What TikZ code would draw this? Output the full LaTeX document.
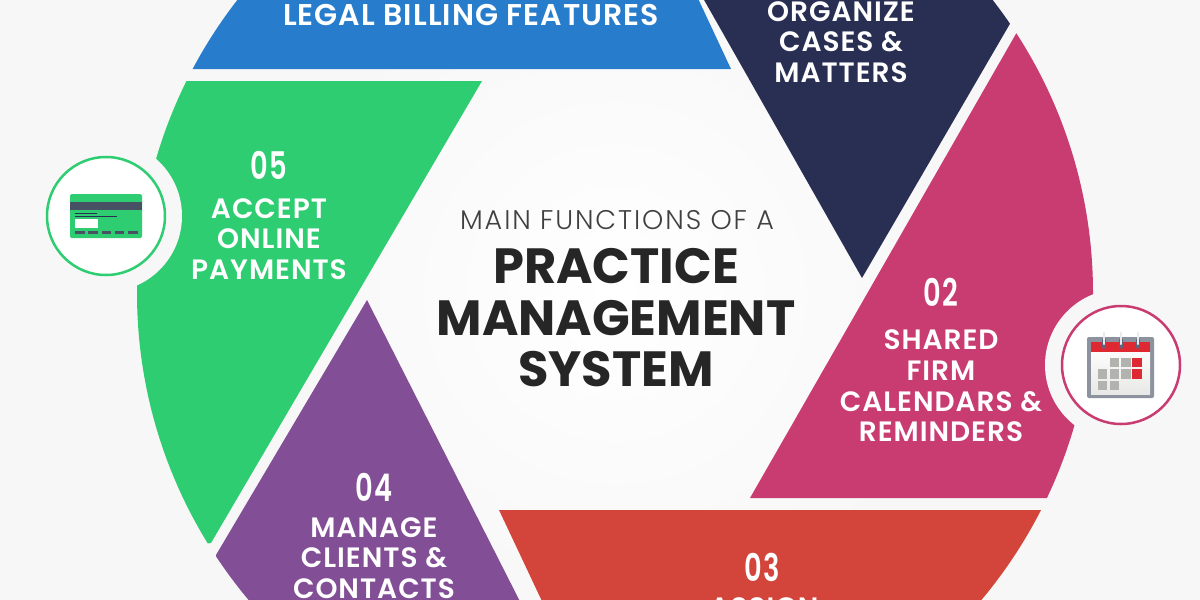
\documentclass[tikz,border=0pt]{standalone}
\usepackage{fontspec}
\usepackage{graphicx}
\setmainfont{Poppins}
\newfontfamily\semifont{Poppins SemiBold}[LetterSpace=3.5]
\newfontfamily\lightfont{Poppins Light}[LetterSpace=7]
\definecolor{paper}{RGB}{247,247,247}
\definecolor{billing}{RGB}{39,125,204}
\definecolor{cases}{RGB}{41,47,83}
\definecolor{calendars}{RGB}{201,60,113}
\definecolor{assign}{RGB}{211,69,58}
\definecolor{clients}{RGB}{130,78,150}
\definecolor{payments}{RGB}{46,205,113}
\definecolor{slate}{RGB}{72,80,100}
\definecolor{binder}{RGB}{140,146,158}
\definecolor{cellred}{RGB}{222,40,50}
\definecolor{cellgrey}{RGB}{178,178,174}
\tikzset{
  lbl/.style={text=white,align=center,font=\fontsize{28}{30.6}\selectfont\semifont},
  num/.style={text=white,font=\fontsize{38}{38}\selectfont\semifont},
  ring/.style={fill=white,line width=2.5pt,circle,minimum size=118pt,inner sep=0pt},
}
\newcommand{\narrow}[1]{\scalebox{.72}[1]{#1}}
\begin{document}
\begin{tikzpicture}[x=1pt,y=-1pt]
  \useasboundingbox (0,0) rectangle (1200,600);
  \clip (0,0) rectangle (1200,600);
  \fill[paper] (0,0) rectangle (1200,600);
  \shade[inner color=white,outer color=paper] (615,293) circle (340);
  % the six wedges, cut by the big circle
  \begin{scope}
    \clip (615,293) circle (478);
    \fill[billing] (190,69) -- (731,69) -- (680,-40) -- (100,-40) -- (100,69) -- cycle;
    \fill[cases] (862,278) -- (1011,22) -- (1100,-60) -- (670,-60) -- cycle;
    \fill[calendars] (1017,32) -- (750,498) -- (1200,498) -- (1200,32) -- cycle;
    \fill[assign] (499,510) -- (1100,510) -- (1100,700) -- (565,650) -- cycle;
    \fill[clients] (367,300) -- (216,555) -- (216,700) -- (570,700) -- cycle;
    \fill[payments] (482,81) -- (100,81) -- (100,560) -- (211,543) -- cycle;
  \end{scope}
  % round cut-outs for the two icons
  \fill[paper] (106,216) circle (76);
  \fill[paper] (1121,365) circle (76);
  \node[ring,draw=payments] (cardring) at (106,216) {};
  \node[ring,draw=calendars] (calring) at (1121,365) {};
  % credit card
  \fill[payments,rounded corners=1.5pt] (70,194) rectangle (142,238);
  \fill[slate] (70,202) rectangle (142,210);
  \fill[cases] (75,213) rectangle (97,214.2);
  \fill[cases] (75,215.5) rectangle (117,217);
  \fill[white] (75,219) rectangle (98,228);
  \foreach \i in {0,1,2,3,4}
    \fill[slate] (75+\i*13.3,231) rectangle (84.5+\i*13.3,234);
  % calendar
  \fill[binder,rounded corners=2pt] (1087,337) rectangle (1154,398);
  \shade[top color=white!96!cellgrey,bottom color=white!70!cellgrey] (1091,352) rectangle (1150,394);
  \fill[cellred] (1091,342) rectangle (1150,352);
  \foreach \x in {1104,1121,1138} {
    \draw[cases!75,line width=3.5pt,line cap=round] (\x,340) -- (\x,347);
    \draw[white!80!binder,line width=2.5pt,line cap=round] (\x,333) -- (\x,344);
  }
  \foreach \x/\y/\c in {1114.5/362.5/cellgrey,1126/362.5/cellgrey,1137/362.5/cellred,
      1102.5/374/cellgrey,1114.5/374/cellgrey,1126/374/cellgrey,1137/374/cellred,
      1102.5/385.5/cellgrey,1114.5/385.5/cellgrey}
    \fill[\c] (\x-4.6,\y-4.8) rectangle (\x+4.6,\y+4.8);
  % labels
  \node[lbl,font=\fontsize{30}{30.6}\selectfont\semifont] (billinglbl) at (471,15) {LEGAL BILLING FEATURES};
  \node[lbl] (caseslbl) at (841,42) {ORGANIZE\\CASES \&\\MATTERS};
  \node[num] (n2) at (941,292) {\narrow{02}};
  \node[lbl] (callbl) at (941,386) {SHARED\\FIRM\\CALENDARS \&\\REMINDERS};
  \node[num] (n3) at (762,567) {\narrow{03}};
  \node[lbl] (assignlbl) at (764,608) {ASSIGN};
  \node[num] (n4) at (374,487) {\narrow{04}};
  \node[lbl] (clientslbl) at (374,558) {MANAGE\\CLIENTS \&\\CONTACTS};
  \node[num] (n5) at (269,165) {\narrow{05}};
  \node[lbl] (paylbl) at (269,239) {ACCEPT\\ONLINE\\PAYMENTS};
  % centre title
  \node[text=black!75,font=\fontsize{27}{30}\selectfont\lightfont] (sub) at (617,220) {MAIN FUNCTIONS OF A};
  \node[text=black!85,align=center,font=\fontsize{49.5}{51.5}\selectfont\bfseries] (title) at (616,318) {PRACTICE\\MANAGEMENT\\SYSTEM};
\end{tikzpicture}
\end{document}
